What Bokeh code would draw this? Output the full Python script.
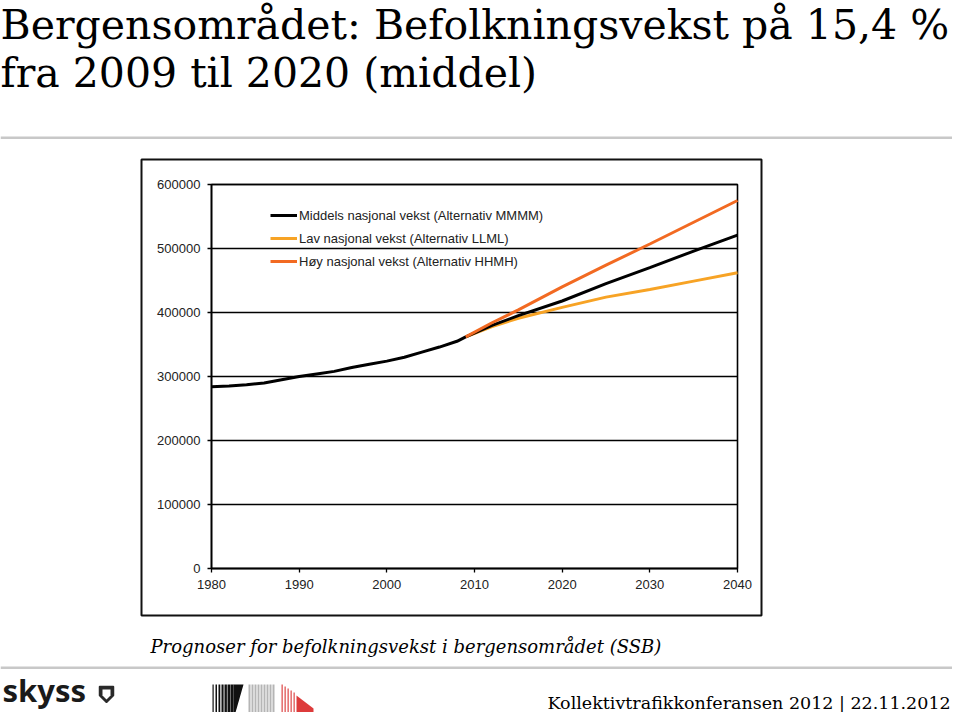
from bokeh.plotting import figure
from bokeh.models import (Label, BoxAnnotation, PolyAnnotation, Legend, LegendItem,
                          FixedTicker, BasicTickFormatter, Range1d, LinearAxis)
from bokeh.embed import file_html
from bokeh.resources import INLINE

# ---------------- data ----------------
title_lines = ["Bergensområdet: Befolkningsvekst på  15,4 %", "fra 2009 til 2020 (middel)"]
caption = "Prognoser for befolkningsvekst i bergensområdet (SSB)"
footer = "Kollektivtrafikkonferansen 2012 | 22.11.2012"
series_names = ["Middels nasjonal vekst (Alternativ MMMM)",
                "Lav nasjonal vekst (Alternativ LLML)",
                "Høy nasjonal vekst (Alternativ HHMH)"]

hist_years = [1980, 1982, 1984, 1986, 1988, 1990, 1992, 1994, 1996, 1998,
              2000, 2002, 2004, 2006, 2008, 2009]
hist_pop = [284000, 285000, 287000, 290000, 295000, 300000, 304000, 308000, 314000, 319000,
            324000, 330000, 338000, 346000, 355000, 362000]

proj_years = [2009, 2012, 2015, 2020, 2025, 2030, 2035, 2040]
proj_middels = [362000, 380000, 395000, 418000, 445000, 470000, 496000, 521000]
proj_lav = [362000, 378000, 391000, 408000, 424000, 436000, 449000, 462000]
proj_hoy = [362000, 384000, 404000, 440000, 474000, 507000, 541000, 575000]

x_ticks = [1980, 1990, 2000, 2010, 2020, 2030, 2040]
y_ticks = [0, 100000, 200000, 300000, 400000, 500000, 600000]

# ---------------- layout constants (canvas px) ----------
W, H = 952, 712
PL, PR, PT, PB = 211, 737, 184, 568   # chart plot-area edges on the canvas
x0, x1 = x_ticks[0], x_ticks[-1]
y0, y1 = y_ticks[0], y_ticks[-1]
kx = (PR - PL) / (x1 - x0)
ky = (PB - PT) / (y1 - y0)

p = figure(output_backend="svg", toolbar_location=None, width=W, height=H,
           min_border=0, x_axis_type=None, y_axis_type=None,
           x_range=Range1d(x0 - PL / kx, x1 + (W - PR) / kx),
           y_range=Range1d(y0 - (H - PB) / ky, y1 + PT / ky),
           background_fill_color="white", border_fill_color="white")
p.outline_line_color = None
p.grid.visible = False


def style_axis(ax):
    ax.axis_line_color = "black"
    ax.axis_line_width = 1.6
    ax.major_tick_line_color = "black"
    ax.major_tick_line_width = 1.3
    ax.major_tick_in = 0
    ax.major_tick_out = 4
    ax.minor_tick_line_color = None
    ax.major_label_text_font = "Liberation Sans"
    ax.major_label_text_font_size = "13px"
    ax.major_label_text_color = "#222222"
    ax.major_label_standoff = 7


xaxis = LinearAxis(ticker=FixedTicker(ticks=x_ticks), bounds=(x0, x1), fixed_location=y0)
yaxis = LinearAxis(ticker=FixedTicker(ticks=y_ticks), bounds=(y0, y1), fixed_location=x0,
                   formatter=BasicTickFormatter(use_scientific=False))
style_axis(xaxis)
style_axis(yaxis)
p.add_layout(xaxis, "below")
p.add_layout(yaxis, "left")

# plot-area box and horizontal grid lines (from the tick list)
p.quad(left=[x0], right=[x1], bottom=[y0], top=[y1], fill_color=None,
       line_color="black", line_width=1.6)
p.segment(x0=[x0] * len(y_ticks), x1=[x1] * len(y_ticks), y0=y_ticks, y1=y_ticks,
          line_color="black", line_width=1.6)

mid_years = hist_years + proj_years[1:]
mid_pop = hist_pop + proj_middels[1:]

r_lav = p.line(proj_years, proj_lav, line_color="#F7A325", line_width=3)
r_mid = p.line(mid_years, mid_pop, line_color="black", line_width=3)
r_hoy = p.line(proj_years, proj_hoy, line_color="#F26A22", line_width=3)

legend = Legend(items=[LegendItem(label=series_names[0], renderers=[r_mid]),
                       LegendItem(label=series_names[1], renderers=[r_lav]),
                       LegendItem(label=series_names[2], renderers=[r_hoy])],
                location=(270, H - 271),
                padding=0, margin=0, spacing=3,
                glyph_width=27, glyph_height=20, label_height=20,
                label_standoff=2, label_text_font="Liberation Sans",
                label_text_font_size="13px", label_text_color="#222222",
                background_fill_alpha=0, border_line_color=None)
p.add_layout(legend)

# ---------------- slide decorations (canvas units) ----------------
def label(text, px, baseline, font, size, style="normal", color="black"):
    # empirical shift so that the text baseline lands on `baseline`
    p.add_layout(Label(x=px, y=baseline - 0.3 * size, x_units="canvas", y_units="canvas",
                       text=text, text_font=font, text_font_size=f"{size}px",
                       text_font_style=style, text_color=color,
                       text_baseline="alphabetic", text_align="left"))


label(title_lines[0], 0, 37, "DejaVu Serif", 41)
label(title_lines[1], 0, 85, "DejaVu Serif", 41)
label(caption, 150, 651, "DejaVu Serif", 18, style="italic")
label(footer, 547, 708, "DejaVu Serif", 17.5)
label("skyss", 2, 699, "Noto Sans", 31, style="bold", color="#1a1a1a")


def box(l, r, t, b, fill=None, line=None, lw=1):
    p.add_layout(BoxAnnotation(left=l, right=r, top=t, bottom=b,
                               left_units="canvas", right_units="canvas",
                               top_units="canvas", bottom_units="canvas",
                               fill_color=fill, fill_alpha=1 if fill else 0,
                               line_color=line, line_alpha=1, line_width=lw,
                               level="overlay"))


def poly(xs, ys, fill, line=None, lw=1):
    p.add_layout(PolyAnnotation(xs=xs, ys=ys, xs_units="canvas", ys_units="canvas",
                                fill_color=fill, fill_alpha=1,
                                line_color=line, line_alpha=1, line_width=lw))


# separators
box(0, W, 136, 138.5, fill="#c8c8c8")
box(0, W, 666, 668.5, fill="#c8c8c8")
# chart border
box(141, 761, 159, 615, line="#111111", lw=2)

# stripe logo
for i, x in enumerate([212, 215, 218, 221, 224, 227, 230]):
    box(x, x + 1.2 + i * 0.3, 684, 712, fill="#111111")
poly([233, 243, 235, 233], [684, 684, 712, 712], "#111111")
for x in [248, 251, 254, 257, 260, 263, 266, 269, 272]:
    box(x, x + 2, 684, 712, fill="#b5b5b5")
for i, x in enumerate([281, 284, 287, 290, 293]):
    box(x, x + 1.3, 684 + i * 2, 712, fill="#e05555")
poly([296, 313, 313, 296], [695, 708, 712, 712], "#dd3b3b")
# shield
poly([99, 113, 113, 106, 99], [686, 686, 695, 702, 695], "#2a2a2a", line="#2a2a2a", lw=1.5)
poly([102, 110, 110, 106, 102], [689, 689, 695, 699, 695], "white")

open("out.html", "w").write(file_html(p, INLINE))
